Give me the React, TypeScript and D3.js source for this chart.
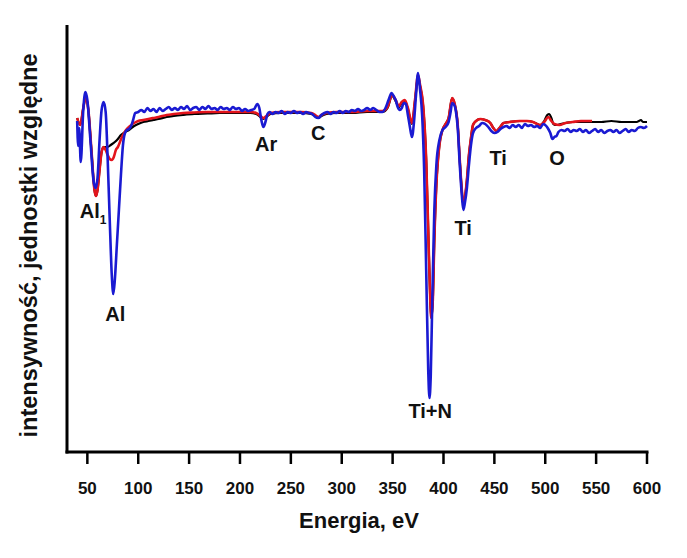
import React from "react";
import * as d3 from "d3";

// Energies (eV) and signal values (arbitrary units, baseline ~0)
const blueE = [40,41,42,43.5,46,48,50,53,56,58,60,62,64,66,68,70,72,74,75.5,77,79,81,83,85,87,89,91,93,95,97,100,103,106,109,112,115,118,121,124,127,130,133,136,139,142,145,148,151,154,157,160,163,166,169,172,175,178,181,184,187,190,193,196,199,202,205,208,211,214,217,219,221,223,225,227,229,232,235,238,241,244,247,250,253,256,259,262,265,268,271,274,277,280,283,286,289,292,295,298,301,304,307,310,313,316,319,322,325,328,331,334,337,340,343,346,349,351,353,355,357,359,361,363,365,367,369,371,373,375,377,379,381,383,385,386.2,387.5,389,391,393,396,399,402,405,407,408.5,410,412,414,416,418,419.5,421,423,425,427,429,432,435,438,441,444,447,450,453,456,459,462,465,468,471,474,477,480,483,486,489,492,495,498,501,503,505,507,509,511,513,516,519,522,525,528,531,534,537,540,543,546,549,552,555,558,561,564,567,570,573,576,579,582,585,588,591,594,597,600];
const blueY = [121,146,128,162,110,92,100,140,180,188,178,140,110,102,112,160,220,275,294,280,245,210,175,145,133,130,129,126,120,113,112,110,112,108,111,109,112,108,111,109,107,110,108,110,107,109,106,110,108,107,110,107,109,106,109,108,110,107,109,108,110,107,109,108,111,109,111,110,109,104,108,120,127,122,114,112,114,112,113,111,114,112,113,111,113,112,114,112,113,114,117,118,115,113,112,114,112,113,111,113,111,112,110,111,109,111,110,108,110,108,110,112,112,108,100,93,96,100,107,110,108,103,104,115,127,137,122,95,73,90,115,170,270,370,398,375,300,210,165,140,130,127,122,112,103,104,110,128,165,195,210,203,188,165,145,133,128,126,123,124,127,131,133,132,129,127,126,128,125,127,125,128,124,126,125,127,126,128,124,126,129,133,139,137,136,132,130,131,129,132,130,131,129,132,130,133,131,129,132,130,133,131,130,132,130,133,131,129,132,130,131,128,127,128,126];

const redE = [40,43,46,48.5,51,54,57,58.5,60,62,64,66,68,70,72,74,76,78,80,84,88,92,96,100,105,110,115,120,128,135,144,155,168,180,195,210,216,220,223,226,230,240,250,260,270,274,277,280,285,295,310,325,335,340,345,349.5,353,356,359,362,365,369,372,375,377,380,383,385,387,388,389.5,391,393,396,399,402,405,408.5,411,414,416,418,419.5,421,423,425,427,429,432,436,441,446,449,452,455,459,465,475,482,488,492,495,499,503,506,509,514,520,527,535,546];
const redY = [118,125,108,97,110,150,190,196,190,170,152,147,150,155,159,160,157,150,147,137,130,126,123,121,120,119,118,117,115,114,113,112.5,112,112,112,112,113,116,118,116,113,112,112,112,113,115,117,115,113,112,112,111,111,111,107,95,100,106,102,100,108,123,100,75,85,105,160,230,300,318,300,240,185,145,130,124,118,98,104,125,160,190,205,198,180,155,138,125,121,119,120,123,128,131,128,123,122,121,121,122,124,125,122,117,121,124,125,123,122,121,121];

const blackE = [40,43,46,48.5,51,54,57,58.5,60,62,64,66,70,73,77,80,83,87,91,96,100,105,110,115,120,128,135,144,155,168,180,195,210,216,220,223,226,230,240,250,260,270,274,277,280,285,295,310,325,335,340,345,349.5,353,356,359,362,365,369,372,375,377,380,383,385,387,388,389.5,391,393,396,399,402,405,408.5,411,414,416,418,419.5,421,423,425,427,429,432,436,441,446,449,452,455,459,465,475,482,488,492,495,499,502,504,506,508,511,515,520,527,535,546,555,565,575,585,590,592,594,596,600];
const blackY = [118,125,108,97,110,150,190,196,190,170,152,147,147,145,142,139,135,132,130,126,124,122,121,120,119,117,116,115,114,113.5,113,113,113,114,117,119,117,114,113,113,113,114,116,118,116,114,113,113,112,112,112,108,96,101,107,103,101,109,124,101,76,86,106,160,230,300,318,300,240,185,145,130,124,118,98,104,125,160,190,205,198,180,155,138,125,121,119,120,123,128,131,128,123,122,121,121,122,124,125,121,115,114,118,124,125,124,123,122,122,122,122,121,122,122,122,121,120,122,122];

const xTicks = [50,100,150,200,250,300,350,400,450,500,550,600];

const labels = [
  { text: "Al", sub: "1", e: 42.5, v: 218 },
  { text: "Al", sub: "", e: 77.5, v: 321 },
  { text: "Ar", sub: "", e: 225.8, v: 151 },
  { text: "C", sub: "", e: 276.9, v: 140 },
  { text: "Ti+N", sub: "", e: 386.9, v: 418 },
  { text: "Ti", sub: "", e: 419.4, v: 235 },
  { text: "Ti", sub: "", e: 453.7, v: 165 },
  { text: "O", sub: "", e: 511.7, v: 165 },
];

const W = 687, H = 558;
const left = 67, right = 647, top = 25, bottom = 452;
const FONT = "'Liberation Sans', Arial, Helvetica, sans-serif";

export default function App() {
  const x = d3.scaleLinear().domain([30, 600]).range([left, right]);
  // signal values given in screen-like units; y scale maps them linearly
  const y = d3.scaleLinear().domain([top, bottom]).range([top, bottom]);
  const line = d3
    .line<[number, number]>()
    .x((d) => x(d[0]))
    .y((d) => y(d[1]))
    .curve(d3.curveMonotoneX);
  const mk = (E: number[], V: number[]) => line(E.map((e, i) => [e, V[i]] as [number, number])) || "";

  return (
    <svg width={W} height={H} style={{ position: "absolute", left: 0, top: 0, background: "#fff" }} fontFamily={FONT}>
      <rect x={0} y={0} width={W} height={H} fill="#fff" />
      <path d={mk(blackE, blackY)} fill="none" stroke="#000" strokeWidth={2.2} strokeLinejoin="round" />
      <path d={mk(redE, redY)} fill="none" stroke="#e3141c" strokeWidth={2.6} strokeLinejoin="round" />
      <path d={mk(blueE, blueY)} fill="none" stroke="#1a1ad2" strokeWidth={2.6} strokeLinejoin="round" />
      {/* axes */}
      <line x1={left} y1={top} x2={left} y2={bottom + 1.5} stroke="#000" strokeWidth={3} />
      <line x1={left - 1.5} y1={bottom} x2={right + 1.5} y2={bottom} stroke="#000" strokeWidth={3} />
      {xTicks.map((t) => (
        <g key={t}>
          <line x1={x(t)} x2={x(t)} y1={bottom} y2={bottom + 12} stroke="#000" strokeWidth={2.5} />
          <text x={x(t)} y={bottom + 42} textAnchor="middle" fontSize={17} fontWeight="bold" fill="#111">
            {t}
          </text>
        </g>
      ))}
      <text x={(left + right) / 2 + 2} y={528} textAnchor="middle" fontSize={22} fontWeight="bold" fill="#111">
        Energia, eV
      </text>
      <text
        transform={`translate(37, ${(top + bottom) / 2 + 7}) rotate(-90)`}
        textAnchor="middle"
        fontSize={23.5}
        fontWeight="bold"
        fill="#111"
      >
        intensywność, jednostki względne
      </text>
      {labels.map((l, i) => (
        <text key={i} x={x(l.e)} y={y(l.v)} textAnchor={l.sub ? "start" : "middle"} fontSize={20} fontWeight="bold" fill="#111">
          {l.text}
          {l.sub && (
            <tspan fontSize={12} dy={6}>
              {l.sub}
            </tspan>
          )}
        </text>
      ))}
    </svg>
  );
}
